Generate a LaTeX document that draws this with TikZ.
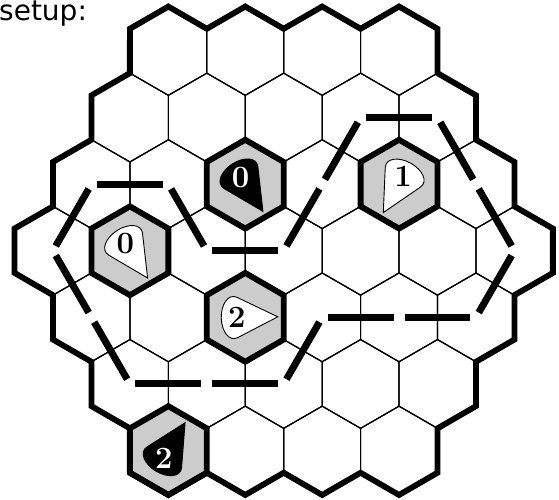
\documentclass[tikz,border=0pt]{standalone}
\usepackage{fontspec}
\newfontfamily\labelsans{DejaVu Sans}
\newcommand\hexcell[2][]{\draw[#1] (#2) +(30:44.4) -- +(90:44.4) -- +(150:44.4) -- +(210:44.4) -- +(270:44.4) -- +(330:44.4) -- cycle;}
\tikzset{
  teardrop/.pic={\path[pic actions] (32.5,0) -- (-8,20.2) .. controls (-16.5,24.3) and (-24,13.5) .. (-24,0) .. controls (-24,-13.5) and (-16.5,-24.3) .. (-8,-20.2) -- cycle;}
}
\begin{document}
\begin{tikzpicture}[x=1pt,y=1pt,
  gridline/.style={line width=1.2pt},
  boardline/.style={line width=5.8pt, line join=miter},
  cluehex/.style={fill=black!20, draw=black, line width=5.8pt, line join=miter},
  loopdash/.style={line width=7pt, line cap=butt, shorten <=5.5pt, shorten >=5.5pt},
  dropwhite/.style={fill=white, draw=black, line width=0.9pt},
  dropblack/.style={fill=black, draw=black, line width=0.9pt},
  digit/.style={font=\fontsize{31}{31}\selectfont\bfseries, inner sep=0pt},
]
\useasboundingbox (0,0) rectangle (559,-499);
\fill[white] (0,0) rectangle (559,-499);

\begin{scope}[shift={(283.7,-250.75)}]
% hex centres and thin grid
\foreach \rr in {-3,...,3}{
  \pgfmathtruncatemacro\qmin{max(-3,-3-\rr)}
  \pgfmathtruncatemacro\qmax{min(3,3-\rr)}
  \foreach \qq in {\qmin,...,\qmax}{
    \pgfmathtruncatemacro\qi{\qq+3}
    \pgfmathtruncatemacro\ri{\rr+3}
    \coordinate (c\qi\ri) at ({76.9*\qq+38.45*\rr},{-66.6*\rr});
    \hexcell[gridline]{c\qi\ri}
  }
}
% clue hexes
\foreach \hh in {32,52,13,24,06}{
  \hexcell[cluehex]{c\hh}
}
% board outline
\foreach \k in {0,...,5}{
  \foreach \px/\py [count=\i from 0] in {-153.8/222, -115.35/244.2, -76.9/222, -38.45/244.2, 0/222, 38.45/244.2, 76.9/222}{
    \pgfmathtruncatemacro\n{7*\k+\i}
    \path[rotate=-60*\k] (\px,\py) coordinate (o\n);
  }
}
\draw[boardline] (o0) \foreach \i in {1,...,41}{ -- (o\i) } -- cycle;
% loop
\foreach \ha/\hb in {12/22, 22/23, 23/33, 33/42, 42/51, 51/61, 61/62, 62/63, 63/54, 54/44, 44/34, 34/25, 25/15, 15/05, 05/04, 04/03, 03/12}{
  \draw[loopdash] (c\ha) -- (c\hb);
}
% clues
\pic[dropblack, rotate=-57] at (c32) {teardrop};
\path (c32) ++(123:8.5) node[digit, text=white] (d1) {0};
\pic[dropwhite, rotate=241] at (c52) {teardrop};
\path (c52) ++(61:8.5) node[digit] (d2) {1};
\pic[dropwhite, rotate=-57] at (c13) {teardrop};
\path (c13) ++(123:8.5) node[digit] (d3) {0};
\pic[dropwhite, rotate=1] at (c24) {teardrop};
\path (c24) ++(181:8.5) node[digit] (d4) {2};
\pic[dropblack, rotate=59] at (c06) {teardrop};
\path (c06) ++(239:8.5) node[digit, text=white] (d5) {2};
\end{scope}

\node[anchor=base west, inner sep=0pt, font=\labelsans\fontsize{28}{28}\selectfont] (title) at (-1,-20.7) {setup:};
\end{tikzpicture}
\end{document}
